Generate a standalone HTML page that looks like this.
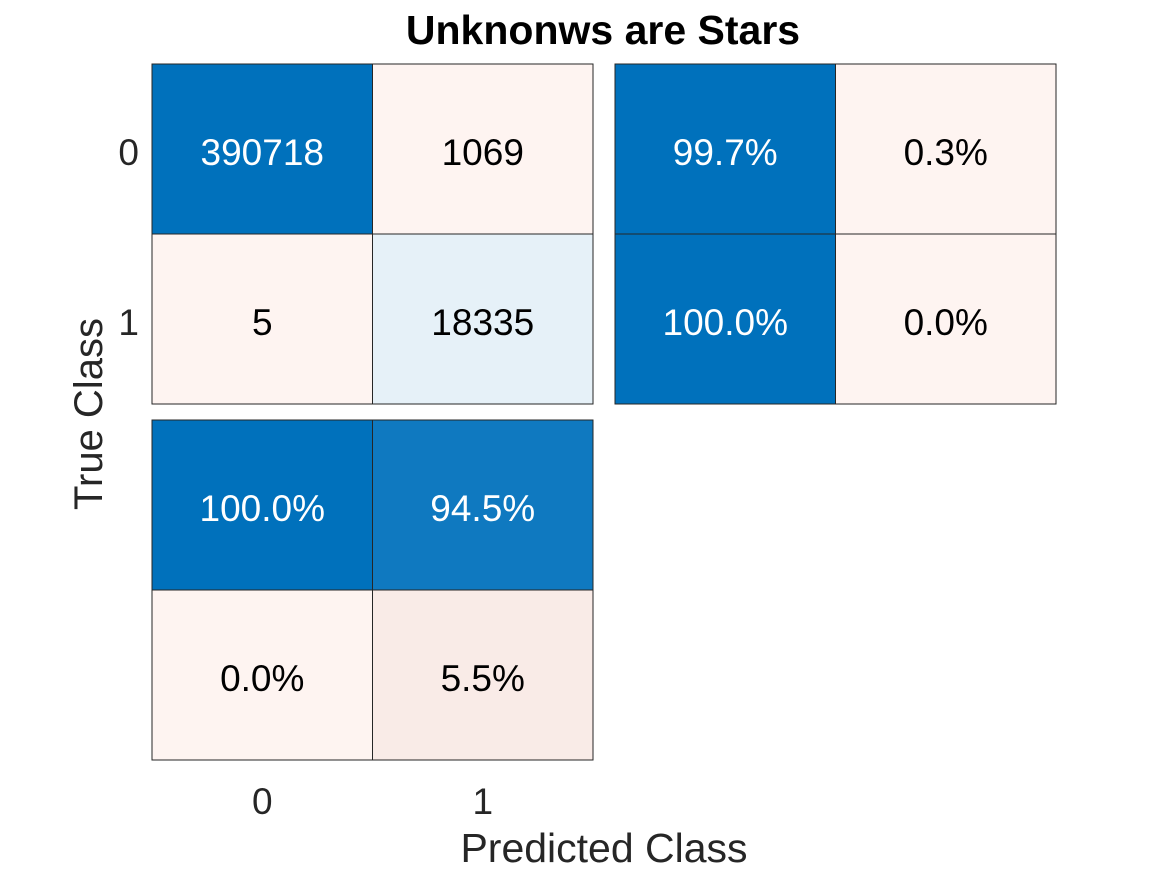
<!DOCTYPE html>
<html><head><meta charset="utf-8"><style>
html,body{margin:0;padding:0;background:#fff;}
svg{display:block;font-family:"Liberation Sans",Arial,sans-serif;}
</style></head><body>
<svg id="chart" width="1167" height="875" viewBox="0 0 1167 875" xmlns="http://www.w3.org/2000/svg">
<text x="603" y="44" text-anchor="middle" font-size="41" font-weight="bold" fill="#000">Unknonws are Stars</text>
<text x="604" y="862" text-anchor="middle" font-size="41" fill="#262626">Predicted Class</text>
<text transform="translate(102,414) rotate(-90)" text-anchor="middle" font-size="40" fill="#262626">True Class</text>
<g id="marks"></g>
</svg>
<script>
const classes = ["0","1"];
const counts = [[390718,1069],[5,18335]];
const rowSummary = [["99.7%","0.3%"],["100.0%","0.0%"]];
const colSummary = [["100.0%","94.5%"],["0.0%","5.5%"]];
const countColors = [["#0071bc","#fef4f1"],["#fef4f1","#e6f1f8"]];
const rowColors = [["#0071bc","#fef4f1"],["#0071bc","#fef4f1"]];
const colColors = [["#0071bc","#0f79c0"],["#fef4f1","#f9ebe7"]];

const NS="http://www.w3.org/2000/svg";
const g=document.getElementById('marks');
const cw=220.5, ch=170;
function xPos(i,x0){return x0+i*cw;}
function yPos(j,y0){return y0+j*ch;}
function isDark(c){return c==="#0071bc"||c==="#0f79c0";}
function drawGrid(x0,y0,vals,cols,name){
  for(let r=0;r<2;r++)for(let c=0;c<2;c++){
    const rect=document.createElementNS(NS,'rect');
    rect.setAttribute('x',xPos(c,x0));rect.setAttribute('y',yPos(r,y0));
    rect.setAttribute('width',cw);rect.setAttribute('height',ch);
    rect.setAttribute('fill',cols[r][c]);rect.setAttribute('stroke','#262626');rect.setAttribute('stroke-width','1');
    
    
    g.appendChild(rect);
    const t=document.createElementNS(NS,'text');
    t.setAttribute('x',xPos(c,x0)+cw/2);t.setAttribute('y',yPos(r,y0)+ch/2+16);
    t.setAttribute('text-anchor','middle');t.setAttribute('font-size','37');
    t.setAttribute('fill',isDark(cols[r][c])?'#fff':'#000');
    t.textContent=vals[r][c];
    
    
    g.appendChild(t);
  }
}
drawGrid(152,64,counts,countColors,'count');
drawGrid(615,64,rowSummary,rowColors,'row-summary');
drawGrid(152,420,colSummary,colColors,'column-summary');
classes.forEach((c,i)=>{
  const ty=document.createElementNS(NS,'text');
  ty.setAttribute('x',139);ty.setAttribute('y',yPos(i,64)+ch/2+16);
  ty.setAttribute('text-anchor','end');ty.setAttribute('font-size','37');ty.setAttribute('fill','#262626');
  ty.textContent=c;
  
  
  g.appendChild(ty);
  const tx=document.createElementNS(NS,'text');
  tx.setAttribute('x',xPos(i,152)+cw/2);tx.setAttribute('y',814);
  tx.setAttribute('text-anchor','middle');tx.setAttribute('font-size','37');tx.setAttribute('fill','#262626');
  tx.textContent=c;
  
  
  g.appendChild(tx);
});
</script>
</body></html>
